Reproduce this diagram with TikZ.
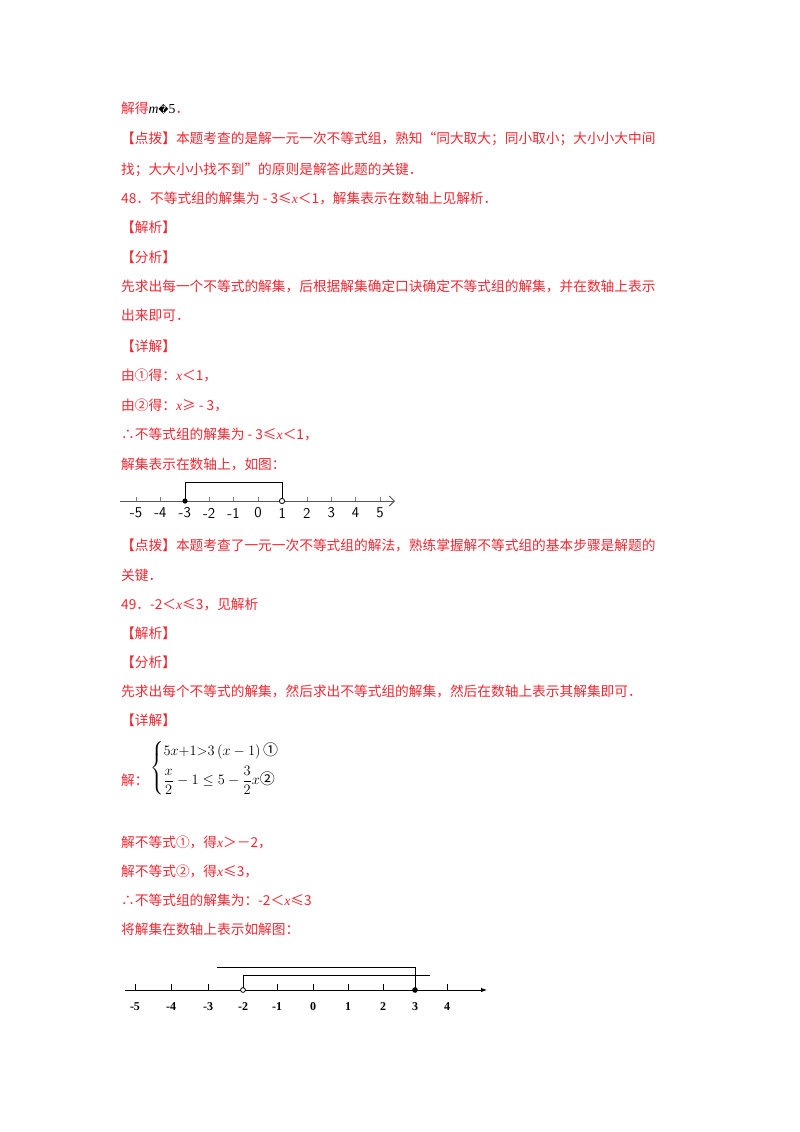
\documentclass[tikz,border=0pt]{standalone}
\usetikzlibrary{arrows.meta}
\usepackage{amsmath,amssymb}
\usepackage{fontspec}
\setmainfont{Liberation Serif}
\newfontfamily\cjk{Noto Sans CJK SC}
\newfontfamily\dejavu{DejaVu Sans}
\definecolor{rd}{RGB}{240,40,50}
\begin{document}
\begin{tikzpicture}[x=1pt,y=-1pt,
  txt/.style={anchor=west,inner sep=0pt,text=rd,font=\cjk\fontsize{13.7}{16}\selectfont},
  lab/.style={inner sep=0pt,font=\fontsize{13}{14}\selectfont},
  tk/.style={line width=0.6pt,gray}]
\useasboundingbox (0,0) rectangle (800,1132);
\fill[white] (0,0) rectangle (800,1132);
\node[txt] (t1) at (121,108) {解得\textcolor{black}{\rmfamily\itshape m}\textcolor{black}{{\dejavu\fontsize{10}{12}\selectfont\char"FFFD}\rmfamily 5}．};
\node[txt] (t2) at (121,139) {【点拨】本题考查的是解一元一次不等式组，熟知“同大取大；同小取小；大小小大中间};
\node[txt] (t3) at (121,170) {找；大大小小找不到”的原则是解答此题的关键．};
\node[txt] (t4) at (121,198) {48．不等式组的解集为 - 3≤{\rmfamily\itshape x}＜1，解集表示在数轴上见解析．};
\node[txt] (t5) at (121,227) {【解析】};
\node[txt] (t6) at (121,257) {【分析】};
\node[txt] (t7) at (121,286) {先求出每一个不等式的解集，后根据解集确定口诀确定不等式组的解集，并在数轴上表示};
\node[txt] (t8) at (121,315) {出来即可．};
\node[txt] (t9) at (121,346) {【详解】};
\node[txt] (t10) at (121,375) {由①得：{\rmfamily\itshape x}＜1，};
\node[txt] (t11) at (121,405) {由②得：{\rmfamily\itshape x}≥ - 3，};
\node[txt] (t12) at (121,434) {∴不等式组的解集为 - 3≤{\rmfamily\itshape x}＜1，};
\node[txt] (t13) at (121,464) {解集表示在数轴上，如图：};
% number line 1
\coordinate (a1s) at (120,501); \coordinate (a1e) at (395,501);
\draw[line width=1pt,gray!70!black,-{Straight Barb[length=5pt]}] (a1s) -- (a1e);
\foreach \i [count=\k] in {-5,...,5}{
  \draw[tk] ({136+24.4*(\i+5)},497) -- ({136+24.4*(\i+5)},501);
  \node[lab,font=\sffamily\fontsize{15}{16}\selectfont] (n1\k) at ({136+24.4*(\i+5)},513) {\i};}
\coordinate (p1) at (185,501); \coordinate (q1) at (282,501);
\draw[line width=0.9pt] (p1) -- (185,482) -- (282,482) -- (q1);
\fill (p1) circle (2.6);
\draw[fill=white,line width=0.8pt] (q1) circle (2.6);
\node[txt] (t14) at (121,545) {【点拨】本题考查了一元一次不等式组的解法，熟练掌握解不等式组的基本步骤是解题的};
\node[txt] (t15) at (121,575) {关键．};
\node[txt] (t16) at (121,604) {49．-2＜{\rmfamily\itshape x}≤3，见解析};
\node[txt] (t17) at (121,633) {【解析】};
\node[txt] (t18) at (121,662) {【分析】};
\node[txt] (t19) at (121,691) {先求出每个不等式的解集，然后求出不等式组的解集，然后在数轴上表示其解集即可．};
\node[txt] (t20) at (121,720) {【详解】};
\node[txt] (t21) at (121,780) {解：};
\node[anchor=west,inner sep=0pt,font=\fontsize{15}{17}\selectfont] (eq) at (150,768)
 {$\begin{cases}5x{+}1{>}3\left(x-1\right)\text{\cjk ①}\\[4pt] \dfrac{x}{2}-1\le 5-\dfrac{3}{2}x\text{\cjk ②}\end{cases}$};
\node[txt] (t22) at (121,842) {解不等式①，得{\rmfamily\itshape x}＞－2，};
\node[txt] (t23) at (121,871) {解不等式②，得{\rmfamily\itshape x}≤3，};
\node[txt] (t24) at (121,900) {∴不等式组的解集为：-2＜{\rmfamily\itshape x}≤3};
\node[txt] (t25) at (121,929) {将解集在数轴上表示如解图：};
% number line 2
\coordinate (a2s) at (125,990); \coordinate (a2e) at (487,990);
\draw[line width=0.9pt,-{Latex[length=6pt]}] (a2s) -- (a2e);
\foreach \i/\xx [count=\k] in {-5/135,-4/171,-3/208,-2/243,-1/277,0/313,1/348,2/383,3/415,4/447}{
  \draw[line width=0.6pt] (\xx,984) -- (\xx,990);
  \node[lab,font=\bfseries\fontsize{12}{13}\selectfont] (n2\k) at (\xx,1007) {\i};}
\coordinate (p2) at (243,990); \coordinate (q2) at (415,990);
\draw[line width=1pt] (217,967) -- (415,967) -- (q2);
\draw[line width=1pt] (p2) -- (243,975) -- (430,975);
\draw[fill=white,line width=0.8pt] (p2) circle (2.4);
\fill (q2) circle (2.8);
\end{tikzpicture}
\end{document}
